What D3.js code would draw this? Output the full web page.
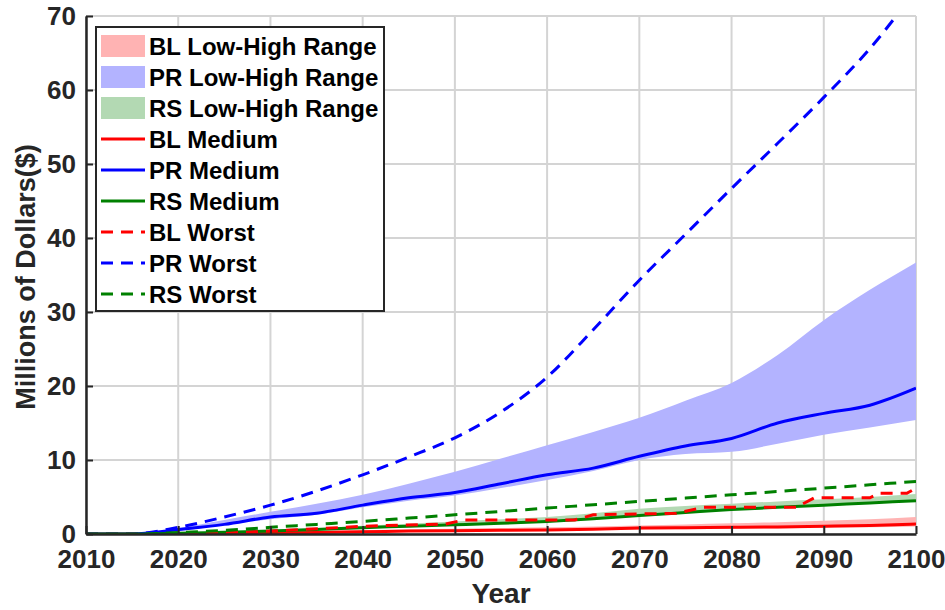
<!DOCTYPE html>
<html>
<head>
<meta charset="utf-8">
<script src="https://cdn.jsdelivr.net/npm/d3@7"></script>
<style>
  body { margin: 0; background: #fff; }
  text { font-family: "Liberation Sans", Arial, Helvetica, sans-serif; font-weight: bold; }
</style>
</head>
<body>
<div id="chart"></div>
<script>
// chart values (millions of dollars)
const years = [2010, 2015, 2020, 2025, 2030, 2035, 2040, 2045, 2050, 2055, 2060,
               2065, 2070, 2075, 2080, 2085, 2090, 2095, 2100];

const prLow  = [0, 0, 0.4, 1.2, 2.0, 2.6, 3.6, 4.5, 5.2, 6.2, 7.3, 8.5, 10.0, 10.8, 11.1, 12.2, 13.4, 14.4, 15.4];
const prHigh = [0, 0, 0.8, 1.9, 3.0, 4.1, 5.3, 6.8, 8.4, 10.2, 12.0, 13.8, 15.7, 18.0, 20.4, 24.2, 28.9, 33.0, 36.7];
const prMed  = [0, 0, 0.6, 1.3, 2.3, 2.8, 3.9, 4.9, 5.6, 6.8, 8.0, 8.9, 10.5, 11.9, 12.9, 15.0, 16.3, 17.4, 19.7];
const prWorst = [0, 0, 0.9, 2.3, 3.9, 5.8, 8.0, 10.4, 13.0, 16.5, 21.2, 27.6, 34.3, 40.5, 46.7, 52.8, 59.0, 65.6, 73.5];

const blLow  = [0, 0, 0, 0.05, 0.1, 0.15, 0.2, 0.3, 0.35, 0.4, 0.45, 0.55, 0.6, 0.65, 0.7, 0.75, 0.85, 0.9, 1.0];
const blHigh = [0, 0, 0.05, 0.15, 0.3, 0.4, 0.5, 0.6, 0.7, 0.8, 0.9, 1.0, 1.15, 1.3, 1.45, 1.6, 1.8, 2.0, 2.3];
const blMed  = [0, 0, 0, 0.1, 0.15, 0.2, 0.3, 0.4, 0.45, 0.5, 0.55, 0.65, 0.8, 0.85, 0.9, 0.95, 1.05, 1.15, 1.35];

const rsLow  = [0, 0, 0.1, 0.2, 0.35, 0.55, 0.8, 1.0, 1.2, 1.4, 1.6, 1.95, 2.35, 2.8, 3.2, 3.5, 3.8, 4.1, 4.4];
const rsHigh = [0, 0, 0.15, 0.35, 0.55, 0.8, 1.1, 1.4, 1.7, 2.0, 2.3, 2.8, 3.4, 3.8, 4.1, 4.4, 4.7, 5.0, 5.4];
const rsMed  = [0, 0, 0.1, 0.25, 0.4, 0.6, 0.85, 1.05, 1.25, 1.45, 1.7, 2.05, 2.5, 2.9, 3.3, 3.6, 3.9, 4.2, 4.5];
const rsWorst = [0, 0, 0.2, 0.5, 0.9, 1.3, 1.7, 2.15, 2.6, 3.05, 3.5, 3.95, 4.4, 4.85, 5.3, 5.75, 6.2, 6.65, 7.1];

// BL worst moves in steps, so it keeps its own years
const blWorstYears = [2010, 2020, 2025, 2030, 2035, 2040, 2049, 2051, 2063, 2065, 2074, 2077, 2087, 2089, 2095, 2096, 2099, 2100];
const blWorst      = [0, 0, 0.1, 0.4, 0.7, 1.05, 1.35, 1.9, 1.9, 2.6, 2.8, 3.6, 3.6, 4.9, 4.9, 5.5, 5.5, 6.2];

const xTicks = d3.range(2010, 2101, 10);
const yTicks = d3.range(0, 71, 10);

const legendLabels = ["BL Low-High Range", "PR Low-High Range", "RS Low-High Range",
                      "BL Medium", "PR Medium", "RS Medium",
                      "BL Worst", "PR Worst", "RS Worst"];

const width = 945, height = 610;
const margin = {top: 16, right: 30, bottom: 76, left: 86};

const red = "#ff0000", blue = "#0000ff", green = "#008000";
const axisColor = "#262626";

const svg = d3.select("#chart")
  .append("svg")
  .attr("width", width)
  .attr("height", height);

const x = d3.scaleLinear()
  .domain([2010, 2100])
  .range([margin.left, width - margin.right + 1]);

const y = d3.scaleLinear()
  .domain([0, 70])
  .range([height - margin.bottom, margin.top]);

// clip to plot area
svg.append("clipPath").attr("id", "clip")
  .append("rect")
  .attr("x", x(2010)).attr("y", y(70))
  .attr("width", x(2100) - x(2010)).attr("height", y(0) - y(70));

// grid
const grid = svg.append("g");
grid.selectAll(".gx").data(xTicks).enter().append("line")
  .attr("x1", d => x(d)).attr("x2", d => x(d))
  .attr("y1", y(0)).attr("y2", y(70))
  .attr("stroke", "#d4d4d4").attr("stroke-width", 2);
grid.selectAll(".gy").data(yTicks).enter().append("line")
  .attr("x1", x(2010)).attr("x2", x(2100))
  .attr("y1", d => y(d)).attr("y2", d => y(d))
  .attr("stroke", "#d4d4d4").attr("stroke-width", 2);

const plot = svg.append("g").attr("clip-path", "url(#clip)");

const area = (lo, hi) => d3.area()
  .curve(d3.curveMonotoneX)
  .x((d, i) => x(years[i]))
  .y0((d, i) => y(lo[i]))
  .y1((d, i) => y(hi[i]))(years);

const line = (xs, vals, curve) => d3.line()
  .curve(curve || d3.curveMonotoneX)
  .x((d, i) => x(xs[i]))
  .y(d => y(d))(vals);

// bands
plot.append("path").attr("d", area(blLow, blHigh)).attr("fill", "#ffb3b3");
plot.append("path").attr("d", area(prLow, prHigh)).attr("fill", "#b3b3ff");
plot.append("path").attr("d", area(rsLow, rsHigh)).attr("fill", "#b3d9b3");

// medium lines
const solid = [[blMed, red], [prMed, blue], [rsMed, green]];
solid.forEach(([v, c]) => {
  plot.append("path").attr("d", line(years, v))
    .attr("fill", "none").attr("stroke", c).attr("stroke-width", 3);
});

// worst lines
const dash = "12,8";
plot.append("path").attr("d", line(blWorstYears, blWorst, d3.curveLinear))
  .attr("fill", "none").attr("stroke", red).attr("stroke-width", 3).attr("stroke-dasharray", dash);
plot.append("path").attr("d", line(years, prWorst))
  .attr("fill", "none").attr("stroke", blue).attr("stroke-width", 3).attr("stroke-dasharray", dash);
plot.append("path").attr("d", line(years, rsWorst))
  .attr("fill", "none").attr("stroke", green).attr("stroke-width", 3).attr("stroke-dasharray", dash);

// axes
const xAxis = svg.append("g")
  .attr("transform", `translate(0,${y(0)})`)
  .call(d3.axisBottom(x).tickValues(xTicks).tickFormat(d3.format("d")).tickSizeInner(-8).tickSizeOuter(0).tickPadding(16));
const yAxis = svg.append("g")
  .attr("transform", `translate(${x(2010)},0)`)
  .call(d3.axisLeft(y).tickValues(yTicks).tickSizeInner(-7).tickSizeOuter(0).tickPadding(10));

[xAxis, yAxis].forEach(g => {
  g.select(".domain").attr("stroke", axisColor).attr("stroke-width", 2.5);
  g.selectAll(".tick line").attr("stroke", axisColor).attr("stroke-width", 2);
  g.selectAll(".tick text")
    .attr("fill", axisColor)
    .attr("font-size", "26px")
    .attr("font-family", "'Liberation Sans', Arial, sans-serif")
    .attr("font-weight", "bold");
});
xAxis.selectAll(".tick text").attr("dy", "0.71em");
yAxis.selectAll(".tick text").attr("dy", "0.34em");

// axis titles
svg.append("text")
  .attr("x", x(2055)).attr("y", 603)
  .attr("text-anchor", "middle")
  .attr("font-size", "28px")
  .attr("fill", axisColor)
  .text("Year");

svg.append("text")
  .attr("transform", `translate(35,${(y(0) + y(70)) / 2 + 2}) rotate(-90)`)
  .attr("text-anchor", "middle")
  .attr("font-size", "27px")
  .attr("fill", axisColor)
  .text("Millions of Dollars($)");

// legend
const legend = svg.append("g");
legend.append("rect")
  .attr("x", 96).attr("y", 27)
  .attr("width", 288).attr("height", 284)
  .attr("fill", "#fff").attr("stroke", axisColor).attr("stroke-width", 2);

const legendKeys = [
  {type: "area", color: "#ffb3b3"}, {type: "area", color: "#b3b3ff"}, {type: "area", color: "#b3d9b3"},
  {type: "solid", color: red}, {type: "solid", color: blue}, {type: "solid", color: green},
  {type: "dash", color: red}, {type: "dash", color: blue}, {type: "dash", color: green}
];

const rowY = i => 46 + i * 31;
legendKeys.forEach((k, i) => {
  const cy = rowY(i);
  if (k.type === "area") {
    legend.append("rect")
      .attr("x", 101).attr("y", cy - 11)
      .attr("width", 44).attr("height", 22)
      .attr("fill", k.color);
  } else {
    legend.append("line")
      .attr("x1", 101).attr("x2", 145)
      .attr("y1", cy).attr("y2", cy)
      .attr("stroke", k.color).attr("stroke-width", 3)
      .attr("stroke-dasharray", k.type === "dash" ? dash : null);
  }
  legend.append("text")
    .attr("x", 149).attr("y", cy)
    .attr("dy", "0.36em")
    .attr("font-size", "24px")
    .attr("fill", "#000")
    .text(legendLabels[i]);
});
</script>
</body>
</html>
